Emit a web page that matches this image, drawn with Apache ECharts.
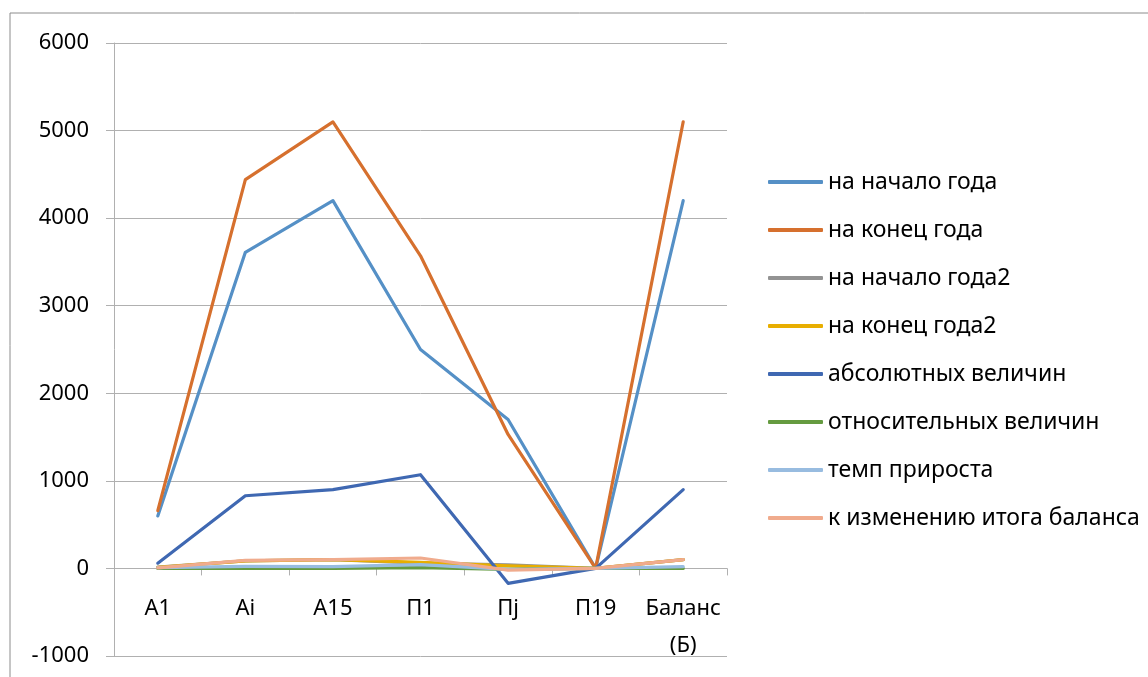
<!DOCTYPE html>
<html>
<head>
<meta charset="utf-8">
<script src="https://cdn.jsdelivr.net/npm/echarts@6/dist/echarts.min.js"></script>
<style>
  html, body { margin: 0; padding: 0; background: #fff; }
  #chart { width: 1148px; height: 677px; }
</style>
</head>
<body>
<div id="chart"></div>
<script>
// данные графика
const categories = ['А1', 'Аi', 'А15', 'П1', 'Пj', 'П19', 'Баланс (Б)'];

const naNachalo = [600, 3610, 4200, 2500, 1700, 0, 4200];
const naKonec = [660, 4440, 5100, 3570, 1530, 0, 5100];
const naNachalo2 = [14, 86, 100, 60, 40, 0, 100];
const naKonec2 = [13, 87, 100, 70, 30, 0, 100];
const absolutnyh = [60, 830, 900, 1070, -170, 0, 900];
const otnositelnyh = [-1, 1, 0, 10, -10, 0, 0];
const tempPrirosta = [10, 23, 21, 43, -10, 0, 21];
const kIzmeneniyu = [7, 93, 100, 119, -19, 0, 100];

const yTicks = { min: -1000, max: 6000, interval: 1000 };

const seriesList = [
  ['на начало года', naNachalo, '#5590C6'],
  ['на конец года', naKonec, '#D6702E'],
  ['на начало года2', naNachalo2, '#939393'],
  ['на конец года2', naKonec2, '#E8AE00'],
  ['абсолютных величин', absolutnyh, '#3F68B2'],
  ['относительных величин', otnositelnyh, '#659B40'],
  ['темп прироста', tempPrirosta, '#98BCE0'],
  ['к изменению итога баланса', kIzmeneniyu, '#F0AB8D']
];

const fontName = '"Noto Sans", "Open Sans", sans-serif';
const gridColor = '#b0b0b0';

// ось X проходит по нулю: сдвиг от низа сетки (от -1000 до 0)
const plotTop = 43, plotBottom = 656;
const zeroShift = -(plotBottom - plotTop) * (0 - yTicks.min) / (yTicks.max - yTicks.min);

const getOption = () => {
  return {
    animation: false,
    textStyle: { fontFamily: fontName },
    graphic: [
      {
        type: 'rect',
        shape: { x: 10, y: 13, width: 1200, height: 720 },
        style: { fill: 'none', stroke: '#8c8c8c', lineWidth: 1 }
      }
    ],
    grid: {
      left: 114, right: 421, top: plotTop, bottom: 677 - plotBottom,
      containLabel: false,
      outerBoundsMode: 'none'
    },
    legend: {
      orient: 'vertical',
      left: 763,
      top: 163,
      icon: 'roundRect',
      itemWidth: 55,
      itemHeight: 4,
      itemGap: 20,
      textStyle: { fontSize: 23, lineHeight: 28, color: '#000', fontFamily: fontName },
      data: seriesList.map(s => s[0])
    },
    xAxis: {
      type: 'category',
      data: categories,
      boundaryGap: true,
      offset: zeroShift,
      axisLine: { onZero: false, lineStyle: { color: gridColor, width: 1 } },
      axisTick: { show: true, length: 7, lineStyle: { color: gridColor } },
      axisLabel: {
        color: '#000',
        fontSize: 22,
        lineHeight: 37,
        margin: 22,
        interval: 0,
        formatter: v => v.replace(' ', '\n')
      },
      splitLine: { show: false }
    },
    yAxis: {
      type: 'value',
      min: yTicks.min,
      max: yTicks.max,
      interval: yTicks.interval,
      axisLine: { show: true, lineStyle: { color: gridColor, width: 1 } },
      axisTick: { show: true, length: 8, lineStyle: { color: gridColor } },
      axisLabel: { color: '#000', fontSize: 22, margin: 25, formatter: v => String(v) },
      splitLine: { show: true, lineStyle: { color: gridColor, width: 1 } }
    },
    series: seriesList.map(s => ({
      name: s[0],
      type: 'line',
      data: s[1],
      symbol: 'none',
      color: s[2],
      lineStyle: { width: 3.2, color: s[2], join: 'round', cap: 'round' }
    }))
  };
};

const iniciarChart = () => {
  const chart = echarts.init(document.getElementById('chart'));
  chart.setOption(getOption());
};

window.addEventListener('load', () => {
  iniciarChart();
});
</script>
</body>
</html>
